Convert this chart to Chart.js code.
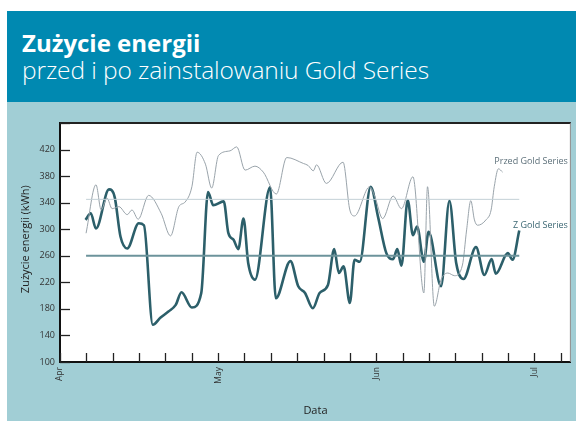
<!DOCTYPE html>
<html>
<head>
<meta charset="utf-8">
<script src="https://cdn.jsdelivr.net/npm/chart.js@4/dist/chart.umd.min.js"></script>
<style>
  body { margin: 0; background: #fff; }
  #wrap { position: relative; width: 576px; height: 421px; overflow: hidden; }
  #head { position: absolute; left: 7px; top: 11px; width: 569px; height: 91px; background: #0089b1; color: #fff; font-family: "Open Sans", sans-serif; }
  #head .t1 { position: absolute; left: 15px; top: 15px; font-size: 24px; font-weight: 700; letter-spacing: 0; white-space: nowrap; }
  #head .t2 { position: absolute; left: 15px; top: 42px; font-size: 24.5px; font-weight: 300; letter-spacing: -0.1px; white-space: nowrap; }
  #panel { position: absolute; left: 7px; top: 102px; width: 569px; height: 319px; background: #a1ced5; }
</style>
</head>
<body>
<div id="wrap">
  <div id="head">
    <div class="t1">Zużycie energii</div>
    <div class="t2">przed i po zainstalowaniu Gold Series</div>
  </div>
  <div id="panel">
    <canvas id="myChart" width="569" height="319"></canvas>
  </div>
</div>
<script>
// days counted from 1 April
var monthNames = ["Apr", "May", "Jun", "Jul"];
var monthDays = [0, 30.33, 60.67, 91];

var afterDays = [4.9, 5.9, 6.9, 9.4, 10.5, 11.6, 12.9, 15.1, 16.1, 17.8, 19.3, 20.8, 22.2, 23.3, 25.3, 27.1, 28.4, 29.4,
  31.4, 32.3, 33.3, 34.2, 35.2, 36.1, 37.4, 40.3, 41.4, 44.2, 45.7, 47, 48.5, 49.8, 51.4, 52.6, 53.5, 54.4, 55.6,
  56.5, 57.5, 59.6, 61, 62.6, 63.9, 64.7, 65.5, 66.7, 67.7, 68.5, 69.8, 70.7, 73.1, 74.7, 76, 77.4, 79.8, 81.4,
  82.8, 83.6, 85.9, 86.8, 88.1];
var afterValues = [314, 324, 301, 360, 348, 289, 271, 309, 306, 156, 167, 176, 186, 205, 182, 204, 356, 336,
  342, 294, 284, 270, 316, 249, 224, 363, 196, 252, 214, 204, 181, 204, 216, 270, 234, 244, 189,
  254, 251, 364, 319, 264, 255, 270, 245, 344, 291, 304, 251, 296, 214, 343, 249, 225, 273, 231,
  255, 233, 264, 254, 298];

var beforeDays = [5, 6.9, 7.9, 9, 10, 11.3, 12.9, 13.8, 15, 17, 19.4, 21.2, 22.8, 24, 25.3, 26.3, 27.9, 29.1,
  30.4, 32.6, 33.9, 35.5, 37.4, 39, 41.5, 43.5, 46.7, 47.6, 48.6, 49.2, 51.1, 54.3, 55.6, 56.5, 59.4, 60.4,
  61.9, 63.9, 65.5, 67.7, 69.8, 70.5, 71.8, 73.1, 74.4, 75.7, 77.2, 78, 78.8, 79.5, 80.1, 81.7, 82.7, 83.3,
  84.1, 84.9];
var beforeValues = [294, 367, 329, 347, 331, 334, 322, 329, 315, 351, 324, 290, 334, 341, 364, 416, 398, 362,
  411, 418, 424, 389, 395, 386, 353, 408, 399, 396, 388, 397, 369, 401, 329, 320, 364, 349,
  316, 350, 331, 379, 204, 364, 184, 224, 234, 230, 246, 299, 343, 314, 306, 314, 329, 364,
  391, 386];

var avgRange = [5, 88.1];
var avgBefore = 345;
var avgAfter = 260;

var seriesLabels = ["Przed Gold Series", "Z Gold Series"];
var labelValues = [402, 306];

var yTicks = [100, 140, 180, 220, 260, 300, 340, 380, 420];

function toPoints(xs, ys) {
  var pts = [];
  for (let i = 0; i < xs.length; i++) {
    pts.push({ x: xs[i], y: ys[i] });
  }
  return pts;
}

function flatLine(v) {
  return [{ x: avgRange[0], y: v }, { x: avgRange[1], y: v }];
}

// white plot area, frame and tick marks pointing into the plot
var frame = {
  id: 'frame',
  beforeDatasetsDraw: function (chart) {
    var ctx = chart.ctx;
    var a = chart.chartArea;
    var xs = chart.scales.x;
    var ys = chart.scales.y;
    ctx.save();
    ctx.strokeStyle = '#222';
    ctx.lineWidth = 1.3;
    ys.ticks.forEach(function (t) {
      var py = Math.round(ys.getPixelForValue(t.value)) + 0.5;
      ctx.beginPath();
      ctx.moveTo(a.left, py);
      ctx.lineTo(a.left + 10, py);
      ctx.stroke();
    });
    xs.ticks.forEach(function (t) {
      var px = Math.round(xs.getPixelForValue(t.value)) + 0.5;
      ctx.beginPath();
      ctx.moveTo(px, a.bottom);
      ctx.lineTo(px, a.bottom - 9);
      ctx.stroke();
    });
    ctx.restore();
  },
  beforeDraw: function (chart) {
    var ctx = chart.ctx;
    var a = chart.chartArea;
    ctx.save();
    ctx.fillStyle = '#fff';
    ctx.fillRect(a.left, a.top, a.right - a.left, a.bottom - a.top);
    ctx.restore();
  },
  afterDraw: function (chart) {
    var ctx = chart.ctx;
    var a = chart.chartArea;
    var ys = chart.scales.y;
    ctx.save();
    ctx.strokeStyle = '#222';
    ctx.lineWidth = 2;
    ctx.beginPath();
    ctx.moveTo(a.left, a.top);
    ctx.lineTo(a.right, a.top);
    ctx.stroke();
    ctx.strokeStyle = '#888';
    ctx.lineWidth = 1;
    ctx.beginPath();
    ctx.moveTo(a.right - 0.5, a.top);
    ctx.lineTo(a.right - 0.5, a.bottom);
    ctx.stroke();

    // axis title
    ctx.fillStyle = '#222';
    ctx.font = '11px "Open Sans", sans-serif';
    ctx.textAlign = 'center';
    ctx.textBaseline = 'middle';
    ctx.translate(19, ys.getPixelForValue(285));
    ctx.rotate(-Math.PI / 2);
    ctx.fillText('Zużycie energii (kWh)', 0, 0);
    ctx.restore();

    // series names at line ends
    ctx.save();
    ctx.font = '9px "Open Sans", sans-serif';
    ctx.textAlign = 'right';
    ctx.textBaseline = 'middle';
    ctx.fillStyle = '#5d707a';
    ctx.fillText(seriesLabels[0], a.right - 3, ys.getPixelForValue(labelValues[0]));
    ctx.fillStyle = '#3a6672';
    ctx.fillText(seriesLabels[1], a.right - 3, ys.getPixelForValue(labelValues[1]));
    ctx.restore();
  }
};

var xTickValues = [];
for (let i = 0; i <= 19; i++) {
  xTickValues.push(i * 91 / 18);
}

var ctx = document.getElementById('myChart').getContext('2d');
var chart = new Chart(ctx, {
  type: 'line',
  data: {
    datasets: [{
      label: seriesLabels[0] + ' avg',
      data: flatLine(avgBefore),
      borderColor: '#c3d0d6',
      borderWidth: 1,
      pointRadius: 0
    }, {
      label: seriesLabels[1] + ' avg',
      data: flatLine(avgAfter),
      borderColor: '#6c939b',
      borderWidth: 2,
      pointRadius: 0
    }, {
      label: seriesLabels[0],
      data: toPoints(beforeDays, beforeValues),
      borderColor: '#9aa4ab',
      borderWidth: 1,
      pointRadius: 0,
      cubicInterpolationMode: 'monotone'
    }, {
      label: seriesLabels[1],
      data: toPoints(afterDays, afterValues),
      borderColor: '#2c5f6a',
      borderWidth: 2.6,
      pointRadius: 0,
      cubicInterpolationMode: 'monotone'
    }]
  },
  options: {
    responsive: false,
    animation: false,
    layout: { padding: { top: 21, right: 3, left: 0, bottom: 0 } },
    plugins: {
      legend: { display: false },
      tooltip: { enabled: false }
    },
    scales: {
      x: {
        type: 'linear',
        min: 0,
        max: 98,
        afterBuildTicks: function (scale) {
          scale.ticks = xTickValues.map(function (v) { return { value: v }; });
        },
        afterFit: function (scale) { scale.height = 59; },
        grid: { display: false, drawTicks: false },
        border: { display: true, color: '#111', width: 2 },
        ticks: {
          autoSkip: false,
          minRotation: 90,
          maxRotation: 90,
          padding: 5,
          color: '#333',
          font: { size: 8.5, family: '"Open Sans", sans-serif' },
          callback: function (v) {
            for (let i = 0; i < monthDays.length; i++) {
              if (Math.abs(v - monthDays[i]) < 0.5) return monthNames[i];
            }
            return '';
          }
        },
        title: {
          display: true,
          text: 'Data',
          color: '#222',
          font: { size: 11, family: '"Open Sans", sans-serif' },
          padding: { top: 0, bottom: 4 }
        }
      },
      y: {
        min: 100,
        max: 460,
        afterFit: function (scale) { scale.width = 53; },
        grid: { display: false, drawTicks: false },
        border: { display: true, color: '#111', width: 2 },
        ticks: {
          stepSize: 20,
          padding: 5,
          color: '#333',
          font: { size: 9, family: '"Open Sans", sans-serif' },
          callback: function (v) {
            return yTicks.indexOf(v) >= 0 ? String(v) : '';
          }
        }
      }
    }
  },
  plugins: [frame]
});
</script>
</body>
</html>
